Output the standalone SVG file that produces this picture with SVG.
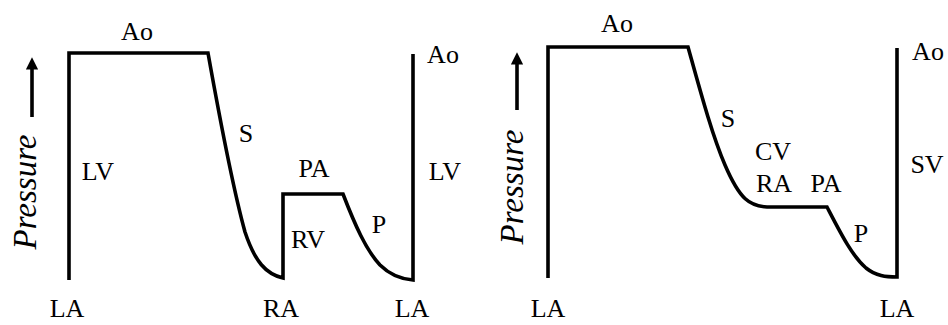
<svg xmlns="http://www.w3.org/2000/svg" width="948" height="325" viewBox="0 0 948 325">
<style>
.t{font-family:"Liberation Serif","Times New Roman",serif;font-size:26px;fill:#000;text-anchor:middle}
.p{font-family:"Liberation Serif","Times New Roman",serif;font-size:33px;font-style:italic;fill:#000;text-anchor:middle}
.c{fill:none;stroke:#000;stroke-width:3.6;stroke-linejoin:miter}
.a{stroke:#000;stroke-width:3.6}
</style>
<defs>
<marker id="ah" viewBox="0 0 10 10" refX="2" refY="5" markerWidth="4.2" markerHeight="3.4" markerUnits="strokeWidth" orient="auto">
<path d="M0,0 L10,5 L0,10 Z" fill="#000"/>
</marker>
</defs>
<rect width="948" height="325" fill="#fff"/>
<g id="panel-left">
<g id="connectors-left">
<path class="c" d="M69,280 L69,53 L208,53 C220,120 232,185 245,232 C255,262 266,274 283,278 L283,194 L343,194 C355,225 366,250 380,265 C390,275 400,279 413,280 L413,54"/>
<line class="a" x1="32" y1="117" x2="32" y2="67" marker-end="url(#ah)"/>
</g>
<text class="p" transform="translate(36,192) rotate(-90)">Pressure</text>
<text class="t" x="137" y="40">Ao</text>
<text class="t" x="443" y="63">Ao</text>
<text class="t" x="246" y="142">S</text>
<text class="t" x="98" y="180">LV</text>
<text class="t" x="314" y="177">PA</text>
<text class="t" x="308" y="248">RV</text>
<text class="t" x="379" y="233">P</text>
<text class="t" x="445" y="180">LV</text>
<text class="t" x="67" y="317">LA</text>
<text class="t" x="281" y="317">RA</text>
<text class="t" x="412" y="317">LA</text>
</g>
<g id="panel-right">
<g id="connectors-right">
<path class="c" d="M548,278 L548,47 L688,47 C700,90 712,135 725,165 C740,200 750,206 767,207 L827,207 C840,232 852,256 866,268 C876,276 886,277 897,277 L897,48"/>
<line class="a" x1="517" y1="110" x2="517" y2="62" marker-end="url(#ah)"/>
</g>
<text class="p" transform="translate(523,187) rotate(-90)">Pressure</text>
<text class="t" x="617" y="32">Ao</text>
<text class="t" x="928" y="60">Ao</text>
<text class="t" x="728" y="127">S</text>
<text class="t" x="773" y="160">CV</text>
<text class="t" x="774" y="192">RA</text>
<text class="t" x="826" y="192">PA</text>
<text class="t" x="927" y="173">SV</text>
<text class="t" x="861" y="242">P</text>
<text class="t" x="548" y="317">LA</text>
<text class="t" x="897" y="317">LA</text>
</g>
</svg>
